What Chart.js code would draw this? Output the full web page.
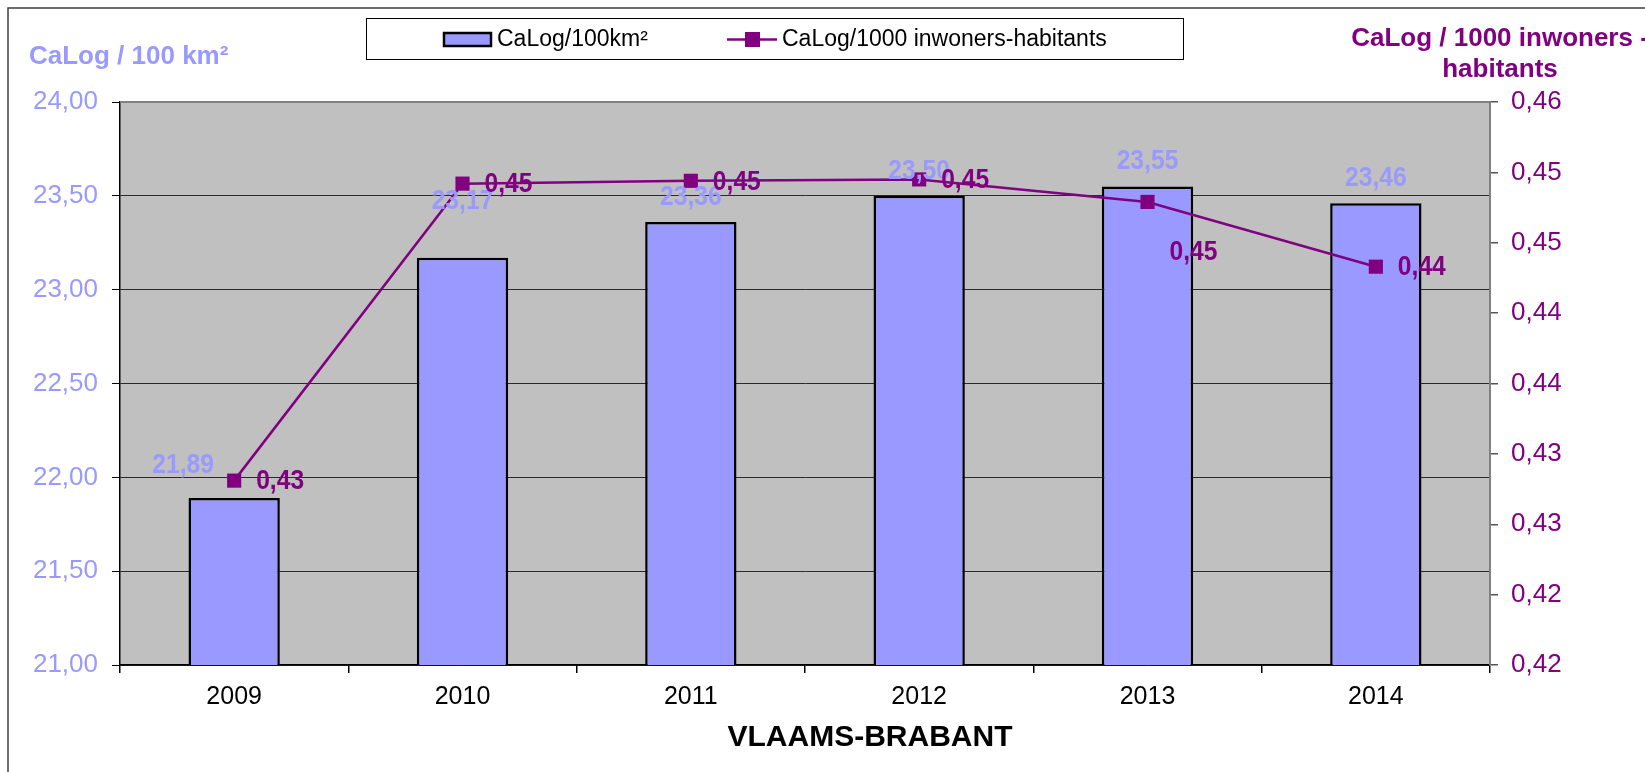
<!DOCTYPE html>
<html>
<head>
<meta charset="utf-8">
<script src="https://cdn.jsdelivr.net/npm/chart.js@4.4.1/dist/chart.umd.min.js"></script>
<style>
  html, body { margin: 0; padding: 0; background: #fff; }
  #wrap { width: 1645px; height: 772px; }
</style>
</head>
<body>
<div id="wrap"><canvas id="chart" width="1645" height="772"></canvas></div>
<script>
// Datos
const years = ["2009", "2010", "2011", "2012", "2013", "2014"]
const perArea = [21.89, 23.17, 23.36, 23.5, 23.55, 23.46]
const perInhabitants = [0.4291, 0.4502, 0.4504, 0.4505, 0.4489, 0.4443]
const areaLabel = "CaLog/100km²"
const inhabLabel = "CaLog/1000 inwoners-habitants"
const leftTitle = "CaLog / 100 km²"
const rightTitle = ["CaLog / 1000 inwoners -", "habitants"]
const xTitle = "VLAAMS-BRABANT"

const BAR = "#9999FF"
const LINE = "#800080"
const FONT = "'Liberation Sans', Arial, sans-serif"

// posición de etiquetas (movidas a mano en el original)
const barLabelShift = { 0: [-51, -33], 1: [0, -56] }
const lineLabelShift = { 4: [22, 50] }

const fmt = (v) => Number(v).toFixed(2).replace(".", ",")

// texto algo estrecho, como en el original
function narrowText(ctx, text, x, y, sx) {
  ctx.save()
  ctx.translate(x, y)
  ctx.scale(sx, 1)
  ctx.fillText(text, 0, 0)
  ctx.restore()
}

const decor = {
  id: "decor",
  beforeDraw(chart) {
    const { ctx, chartArea: a } = chart
    ctx.save()
    ctx.fillStyle = "#fff"
    ctx.fillRect(0, 0, chart.width, chart.height)
    // marco exterior
    ctx.strokeStyle = "#404040"
    ctx.lineWidth = 1.5
    ctx.beginPath()
    ctx.moveTo(8, chart.height)
    ctx.lineTo(8, 8)
    ctx.lineTo(chart.width, 8)
    ctx.stroke()
    // fondo del área de trazado
    ctx.fillStyle = "#C0C0C0"
    ctx.fillRect(a.left, a.top, a.right - a.left, a.bottom - a.top)
    ctx.restore()
  },
  afterDatasetsDraw(chart) {
    const { ctx } = chart
    ctx.save()
    ctx.font = `bold 28px ${FONT}`
    ctx.textBaseline = "middle"

    // etiquetas de barras
    ctx.fillStyle = BAR
    ctx.textAlign = "center"
    chart.getDatasetMeta(1).data.forEach((el, i) => {
      const [dx, dy] = barLabelShift[i] || [0, -25]
      narrowText(ctx, fmt(perArea[i]), el.x + dx, el.y + dy, 0.88)
    })

    // etiquetas de la línea
    ctx.fillStyle = LINE
    ctx.textAlign = "left"
    chart.getDatasetMeta(0).data.forEach((el, i) => {
      const [dx, dy] = lineLabelShift[i] || [22, 1]
      narrowText(ctx, fmt(perInhabitants[i]), el.x + dx, el.y + dy, 0.88)
    })
    ctx.restore()
  },
  afterDraw(chart) {
    const { ctx, chartArea: a } = chart
    ctx.save()
    // borde superior gris
    ctx.strokeStyle = "#808080"
    ctx.lineWidth = 2
    ctx.beginPath()
    ctx.moveTo(a.left, a.top)
    ctx.lineTo(a.right, a.top)
    ctx.stroke()

    // leyenda
    ctx.fillStyle = "#fff"
    ctx.fillRect(366, 18, 817, 41)
    ctx.strokeStyle = "#000"
    ctx.lineWidth = 1
    ctx.strokeRect(366.5, 18.5, 817, 41)

    ctx.fillStyle = BAR
    ctx.fillRect(444, 33, 47, 13)
    ctx.strokeStyle = "#000"
    ctx.lineWidth = 2.5
    ctx.strokeRect(444, 33, 47, 13)

    ctx.strokeStyle = LINE
    ctx.lineWidth = 2.5
    ctx.beginPath()
    ctx.moveTo(727, 39.5)
    ctx.lineTo(777, 39.5)
    ctx.stroke()
    ctx.fillStyle = LINE
    ctx.fillRect(745, 32, 15, 15)

    ctx.fillStyle = "#000"
    ctx.font = `23px ${FONT}`
    ctx.textBaseline = "middle"
    ctx.textAlign = "left"
    ctx.fillText(areaLabel, 497, 40)
    ctx.fillText(inhabLabel, 782, 40)

    // títulos de ejes
    ctx.font = `bold 26px ${FONT}`
    ctx.fillStyle = BAR
    ctx.fillText(leftTitle, 29, 57)

    ctx.fillStyle = LINE
    ctx.textAlign = "center"
    ctx.fillText(rightTitle[0], 1500, 39)
    ctx.fillText(rightTitle[1], 1500, 70)

    ctx.fillStyle = "#000"
    ctx.font = `bold 30px ${FONT}`
    ctx.fillText(xTitle, 870, 738)
    ctx.restore()
  },
}

const ctx = document.getElementById("chart").getContext("2d")

new Chart(ctx, {
  type: "bar",
  data: {
    labels: years,
    datasets: [
      {
        type: "line",
        label: inhabLabel,
        data: perInhabitants,
        yAxisID: "y1",
        borderColor: LINE,
        backgroundColor: LINE,
        borderWidth: 2.5,
        pointStyle: "rect",
        pointRadius: 10,
        pointBorderWidth: 0,
        tension: 0,
        order: 1,
      },
      {
        type: "bar",
        label: areaLabel,
        data: perArea,
        yAxisID: "y",
        backgroundColor: BAR,
        borderColor: "#000",
        borderWidth: 2.5,
        borderSkipped: false,
        barPercentage: 0.4,
        categoryPercentage: 1,
        order: 2,
      },
    ],
  },
  options: {
    responsive: false,
    animation: false,
    layout: { padding: { top: 102, left: 0, right: 0, bottom: 0 } },
    plugins: {
      legend: { display: false },
      tooltip: { enabled: false },
    },
    scales: {
      x: {
        offset: true,
        grid: { offset: true, drawOnChartArea: false, tickLength: 8, tickColor: "#000", lineWidth: 1.5 },
        border: { color: "#000", width: 1.5 },
        ticks: { color: "#000", font: { family: FONT, size: 25 }, padding: 9, maxRotation: 0 },
        afterFit: (s) => {
          s.height = 107
        },
      },
      y: {
        position: "left",
        min: 21,
        max: 24,
        ticks: {
          stepSize: 0.5,
          color: BAR,
          font: { family: FONT, size: 26 },
          padding: 14,
          callback: (v) => fmt(v),
        },
        grid: { color: "#2a2a2a", tickColor: "#000", tickLength: 8, lineWidth: 1 },
        border: { color: "#000", width: 1.5 },
        afterFit: (s) => {
          s.width = 120
        },
      },
      y1: {
        position: "right",
        min: 0.416,
        max: 0.456,
        ticks: {
          count: 9,
          color: LINE,
          font: { family: FONT, size: 26 },
          padding: 13,
          callback: (v) => fmt(v),
        },
        grid: { drawOnChartArea: false, tickColor: "#555", tickLength: 8, lineWidth: 1.5 },
        border: { color: "#808080", width: 2 },
        afterFit: (s) => {
          s.width = 155
        },
      },
    },
  },
  plugins: [decor],
})
</script>
</body>
</html>
